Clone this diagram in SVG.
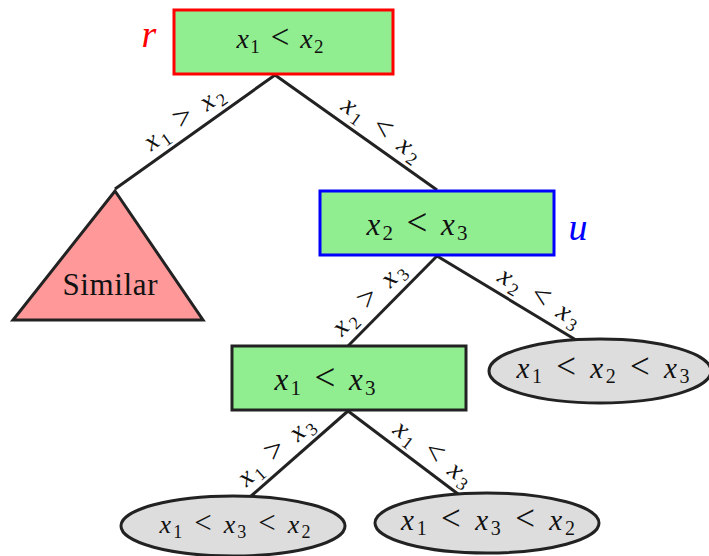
<svg xmlns="http://www.w3.org/2000/svg" width="709" height="556" viewBox="0 0 709 556">
<style>
.edge{stroke:#222;stroke-width:3;fill:none}
.box{fill:#90EE90;stroke-width:3}
.leaf{fill:#DDDDDD;stroke:#222;stroke-width:3}
.tri{fill:#FF9999;stroke:#222;stroke-width:3;stroke-linejoin:miter}
text{font-family:'Liberation Serif','DejaVu Serif','Times New Roman',serif}
</style>
<g font-family="'Liberation Serif', 'DejaVu Serif', 'Times New Roman', serif" fill="#111" text-anchor="middle">
<g id="connectors">
<line class="edge" x1="275" y1="75" x2="115" y2="189"/>
<line class="edge" x1="275" y1="75" x2="437" y2="190"/>
<line class="edge" x1="437" y1="256" x2="348" y2="346"/>
<line class="edge" x1="437" y1="256" x2="576" y2="340"/>
<line class="edge" x1="348" y1="411" x2="250" y2="497"/>
<line class="edge" x1="348" y1="411" x2="458" y2="494"/>
<g font-size="27">
<g transform="translate(194,132) rotate(-35.5)"><text y="-9" textLength="92"><tspan font-style="italic">x</tspan><tspan font-size="18" dy="5">1</tspan><tspan dy="-5" font-size="32"> &gt; </tspan><tspan font-style="italic">x</tspan><tspan font-size="18" dy="5">2</tspan></text></g>
<g transform="translate(372,143) rotate(35.4)"><text y="-9" textLength="92"><tspan font-style="italic">x</tspan><tspan font-size="18" dy="5">1</tspan><tspan dy="-5" font-size="32"> &lt; </tspan><tspan font-style="italic">x</tspan><tspan font-size="18" dy="5">2</tspan></text></g>
<g transform="translate(381,311) rotate(-45)"><text y="-9" textLength="92"><tspan font-style="italic">x</tspan><tspan font-size="18" dy="5">2</tspan><tspan dy="-5" font-size="32"> &gt; </tspan><tspan font-style="italic">x</tspan><tspan font-size="18" dy="5">3</tspan></text></g>
<g transform="translate(531,312) rotate(31)"><text y="-9" textLength="92"><tspan font-style="italic">x</tspan><tspan font-size="18" dy="5">2</tspan><tspan dy="-5" font-size="32"> &lt; </tspan><tspan font-style="italic">x</tspan><tspan font-size="18" dy="5">3</tspan></text></g>
<g transform="translate(287,464) rotate(-41)"><text y="-9" textLength="92"><tspan font-style="italic">x</tspan><tspan font-size="18" dy="5">1</tspan><tspan dy="-5" font-size="32"> &gt; </tspan><tspan font-style="italic">x</tspan><tspan font-size="18" dy="5">3</tspan></text></g>
<g transform="translate(423,467) rotate(37)"><text y="-9" textLength="92"><tspan font-style="italic">x</tspan><tspan font-size="18" dy="5">1</tspan><tspan dy="-5" font-size="32"> &lt; </tspan><tspan font-style="italic">x</tspan><tspan font-size="18" dy="5">3</tspan></text></g>
</g>
</g>
<g id="root">
<rect class="box" x="174" y="10" width="219" height="64" stroke="#FF0000"/>
<text x="280" y="48" font-size="28" textLength="87"><tspan font-style="italic">x</tspan><tspan font-size="19" dy="5">1</tspan><tspan dy="-5" font-size="33"> &lt; </tspan><tspan font-style="italic">x</tspan><tspan font-size="19" dy="5">2</tspan></text>
<text x="149" y="47" font-style="italic" font-size="38" fill="#FF0000">r</text>
</g>
<g id="similar">
<polygon class="tri" points="115,191 203,320 13,320"/>
<text x="110" y="295" font-size="31" textLength="95">Similar</text>
</g>
<g id="u">
<rect class="box" x="320" y="191" width="234" height="64" stroke="#0000FF"/>
<text x="417" y="235" font-size="31" textLength="101"><tspan font-style="italic">x</tspan><tspan font-size="21" dy="5">2</tspan><tspan dy="-5" font-size="37"> &lt; </tspan><tspan font-style="italic">x</tspan><tspan font-size="21" dy="5">3</tspan></text>
<text x="578" y="240" font-style="italic" font-size="38" fill="#0000FF">u</text>
</g>
<g id="n13">
<rect class="box" x="232" y="346" width="234" height="64" stroke="#222"/>
<text x="325" y="390" font-size="31" textLength="101"><tspan font-style="italic">x</tspan><tspan font-size="21" dy="5">1</tspan><tspan dy="-5" font-size="37"> &lt; </tspan><tspan font-style="italic">x</tspan><tspan font-size="21" dy="5">3</tspan></text>
</g>
<g id="leaf123">
<ellipse class="leaf" cx="600" cy="371" rx="111" ry="32"/>
<text x="603" y="378" font-size="29" textLength="173"><tspan font-style="italic">x</tspan><tspan font-size="20" dy="5">1</tspan><tspan dy="-5" font-size="35"> &lt; </tspan><tspan font-style="italic">x</tspan><tspan font-size="20" dy="5">2</tspan><tspan dy="-5" font-size="35"> &lt; </tspan><tspan font-style="italic">x</tspan><tspan font-size="20" dy="5">3</tspan></text>
</g>
<g id="leaf132a">
<ellipse class="leaf" cx="233" cy="526" rx="112" ry="30"/>
<text x="235" y="533" font-size="26" textLength="151"><tspan font-style="italic">x</tspan><tspan font-size="18" dy="5">1</tspan><tspan dy="-5" font-size="31"> &lt; </tspan><tspan font-style="italic">x</tspan><tspan font-size="18" dy="5">3</tspan><tspan dy="-5" font-size="31"> &lt; </tspan><tspan font-style="italic">x</tspan><tspan font-size="18" dy="5">2</tspan></text>
</g>
<g id="leaf132b">
<ellipse class="leaf" cx="487" cy="523" rx="112" ry="30"/>
<text x="488" y="530" font-size="29" textLength="174"><tspan font-style="italic">x</tspan><tspan font-size="20" dy="5">1</tspan><tspan dy="-5" font-size="35"> &lt; </tspan><tspan font-style="italic">x</tspan><tspan font-size="20" dy="5">3</tspan><tspan dy="-5" font-size="35"> &lt; </tspan><tspan font-style="italic">x</tspan><tspan font-size="20" dy="5">2</tspan></text>
</g>
</g>
</svg>
